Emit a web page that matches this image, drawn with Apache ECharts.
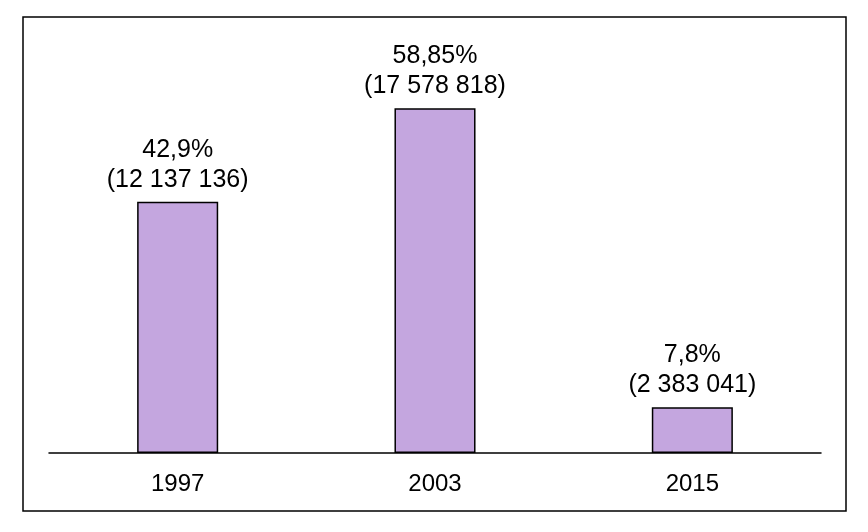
<!DOCTYPE html>
<html>
<head>
<meta charset="utf-8">
<script src="https://cdn.jsdelivr.net/npm/echarts@6/dist/echarts.min.js"></script>
<style>html,body{margin:0;padding:0;background:#fff}#c{width:868px;height:532px}</style>
</head>
<body>
<div id="c"></div>
<script>
const categories = ['1997', '2003', '2015'];
const percentValues = [42.9, 58.85, 7.8];
const countValues = [12137136, 17578818, 2383041];

function fmtCount(n) {
  return String(n).replace(/\B(?=(\d{3})+(?!\d))/g, ' ');
}
function fmtPct(v) {
  return String(v).replace('.', ',') + '%';
}

const chart = echarts.init(document.getElementById('c'), null, { renderer: 'canvas' });
chart.setOption({
  animation: false,
  backgroundColor: '#ffffff',
  textStyle: { fontFamily: 'Liberation Sans, Arial, sans-serif' },
  graphic: [{
    type: 'rect',
    shape: { x: 23, y: 17, width: 823, height: 494 },
    style: { fill: 'none', stroke: '#000', lineWidth: 1.5 },
    silent: true,
    z: 0
  }],
  grid: { left: 49, right: 47, top: 43, bottom: 79, containLabel: false },
  xAxis: {
    type: 'category',
    data: categories,
    axisLine: { lineStyle: { color: '#000', width: 1.5 } },
    axisTick: { show: false },
    axisLabel: { color: '#000', fontSize: 24, margin: 19, fontFamily: 'Liberation Sans, Arial, sans-serif' }
  },
  yAxis: {
    type: 'value',
    min: 0,
    max: 70,
    show: false,
    splitLine: { show: false }
  },
  series: [{
    type: 'bar',
    data: percentValues,
    barWidth: '31.5%',
    itemStyle: { color: '#c4a6df', borderColor: '#000', borderWidth: 1.5 },
    label: {
      show: true,
      position: 'top',
      distance: 7,
      color: '#000',
      fontSize: 25,
      lineHeight: 30,
      fontFamily: 'Liberation Sans, Arial, sans-serif',
      formatter: function (p) {
        return fmtPct(percentValues[p.dataIndex]) + '\n(' + fmtCount(countValues[p.dataIndex]) + ')';
      }
    }
  }]
});
</script>
</body>
</html>
